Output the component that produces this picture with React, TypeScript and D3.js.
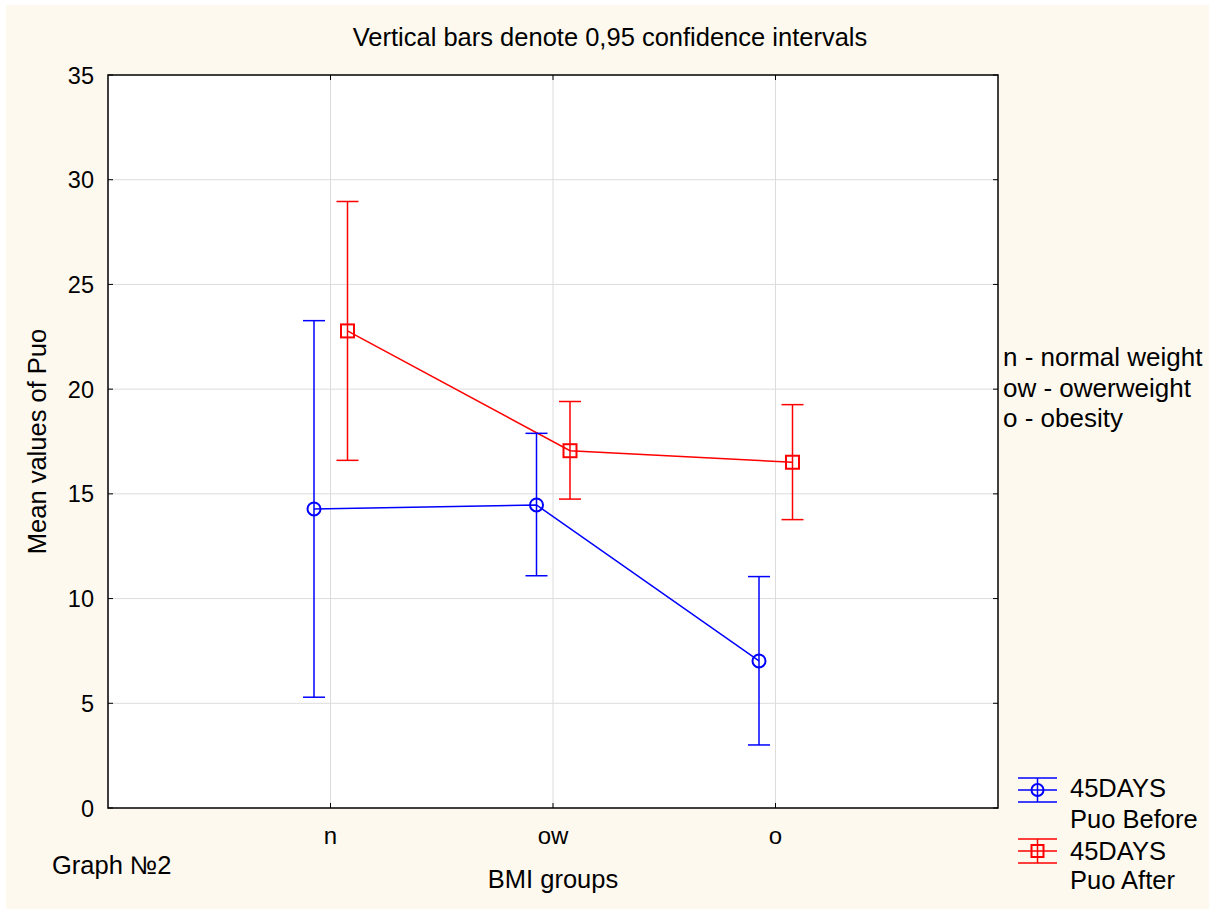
import React from "react";
import * as d3 from "d3";

const categories = ["n", "ow", "o"];
const beforeMean = [14.28, 14.47, 7.02];
const beforeLow = [5.29, 11.09, 3.01];
const beforeHigh = [23.27, 17.89, 11.05];
const afterMean = [22.78, 17.06, 16.51];
const afterLow = [16.6, 14.75, 13.77];
const afterHigh = [28.96, 19.41, 19.26];
const yTicks = [0, 5, 10, 15, 20, 25, 30, 35];
const groupNotes = ["n - normal weight", "ow - owerweight", "o - obesity"];

const W = 1209;
const H = 909;
const L = 108, R = 998, T = 75, B = 808;
const FONT = "'Liberation Sans', Arial, sans-serif";
const BLUE = "#0000ff";
const RED = "#ff0000";
const FS = 25.5;
const TFS = 23.5;

export default function App() {
  const y = d3.scaleLinear().domain([0, 35]).range([B, T]);
  const x = d3.scalePoint<string>().domain(categories).range([L, R]).padding(1);
  const offB = -16.5, offA = 17;
  const cap = 11;

  const lineGen = d3
    .line<[number, number]>()
    .x((d) => d[0])
    .y((d) => d[1]);

  const bPts: [number, number][] = categories.map((c, i) => [x(c)! + offB, y(beforeMean[i])]);
  const aPts: [number, number][] = categories.map((c, i) => [x(c)! + offA, y(afterMean[i])]);

  const errBar = (cx: number, lo: number, hi: number, color: string, key: string) => (
    <g key={key} stroke={color} strokeWidth={1.5}>
      <line x1={cx} x2={cx} y1={y(lo)} y2={y(hi)} />
      <line x1={cx - cap} x2={cx + cap} y1={y(lo)} y2={y(lo)} />
      <line x1={cx - cap} x2={cx + cap} y1={y(hi)} y2={y(hi)} />
    </g>
  );

  const legendSym = (cy: number, color: string, kind: "c" | "s") => {
    const x0 = 1018, x1 = 1057, cx = (x0 + x1) / 2;
    return (
      <g stroke={color} strokeWidth={1.5} fill="none">
        <line x1={x0} x2={x1} y1={cy - 12} y2={cy - 12} />
        <line x1={x0} x2={x1} y1={cy} y2={cy} />
        <line x1={x0} x2={x1} y1={cy + 12} y2={cy + 12} />
        <line x1={cx} x2={cx} y1={cy - 12} y2={cy + 12} />
        {kind === "c" ? (
          <circle cx={cx} cy={cy} r={6} strokeWidth={2} />
        ) : (
          <rect x={cx - 6} y={cy - 6} width={12} height={12} strokeWidth={2} />
        )}
      </g>
    );
  };

  return (
    <svg
      width={W}
      height={H}
      style={{ position: "absolute", left: 0, top: 0 }}
      fontFamily={FONT}
    >
      <rect x={0} y={0} width={W} height={H} fill="#ffffff" />
      <rect x={6} y={5} width={W - 6} height={H - 5} fill="#fef9ee" />
      <text x={610} y={46} fontSize={FS} textAnchor="middle" fill="#000">
        Vertical bars denote 0,95 confidence intervals
      </text>

      <rect x={L} y={T} width={R - L} height={B - T} fill="#ffffff" />
      {/* grid */}
      <g stroke="#dcdcdc" strokeWidth={1}>
        {yTicks.slice(1, -1).map((t) => (
          <line key={"gy" + t} x1={L} x2={R} y1={y(t)} y2={y(t)} />
        ))}
        {categories.map((c) => (
          <line key={"gx" + c} x1={x(c)} x2={x(c)} y1={T} y2={B} />
        ))}
      </g>
      {/* ticks */}
      <g stroke="#000" strokeWidth={1}>
        {yTicks.map((t) => (
          <g key={"t" + t}>
            <line x1={L} x2={L + 5} y1={y(t)} y2={y(t)} />
            <line x1={R - 5} x2={R} y1={y(t)} y2={y(t)} />
          </g>
        ))}
        {categories.map((c) => (
          <g key={"tc" + c}>
            <line x1={x(c)} x2={x(c)} y1={B} y2={B - 5} />
            <line x1={x(c)} x2={x(c)} y1={T} y2={T + 5} />
          </g>
        ))}
      </g>
      <rect x={L} y={T} width={R - L} height={B - T} fill="none" stroke="#000" strokeWidth={1.5} />

      {/* y tick labels */}
      {yTicks.map((t) => (
        <text key={"yl" + t} x={94} y={y(t) + 8.5} fontSize={TFS} textAnchor="end" fill="#000">
          {t}
        </text>
      ))}
      {categories.map((c) => (
        <text key={"xl" + c} x={x(c)} y={844} fontSize={24} textAnchor="middle" fill="#000">
          {c}
        </text>
      ))}
      <text
        transform={`translate(46,${(T + B) / 2}) rotate(-90)`}
        fontSize={FS}
        textAnchor="middle"
        fill="#000"
      >
        Mean values of Puo
      </text>
      <text x={553} y={888} fontSize={FS} textAnchor="middle" fill="#000">
        BMI groups
      </text>
      <text x={52} y={874} fontSize={FS} fill="#000">
        Graph №2
      </text>

      {/* series */}
      <path d={lineGen(bPts) || ""} fill="none" stroke={BLUE} strokeWidth={1.5} />
      <path d={lineGen(aPts) || ""} fill="none" stroke={RED} strokeWidth={1.5} />
      {categories.map((c, i) => errBar(x(c)! + offB, beforeLow[i], beforeHigh[i], BLUE, "eb" + i))}
      {categories.map((c, i) => errBar(x(c)! + offA, afterLow[i], afterHigh[i], RED, "ea" + i))}
      {bPts.map((p, i) => (
        <circle key={"mb" + i} cx={p[0]} cy={p[1]} r={6.5} fill="none" stroke={BLUE} strokeWidth={2} />
      ))}
      {aPts.map((p, i) => (
        <rect key={"ma" + i} x={p[0] - 6.5} y={p[1] - 6.5} width={13} height={13} fill="none" stroke={RED} strokeWidth={2} />
      ))}

      {/* group notes */}
      {groupNotes.map((s, i) => (
        <text key={"gn" + i} x={1003} y={366 + i * 30.5} fontSize={26} fill="#000">
          {s}
        </text>
      ))}

      {/* legend */}
      {legendSym(790, BLUE, "c")}
      <text x={1070} y={797} fontSize={FS} fill="#000">45DAYS</text>
      <text x={1070} y={828} fontSize={FS} fill="#000">Puo Before</text>
      {legendSym(851, RED, "s")}
      <text x={1070} y={860} fontSize={FS} fill="#000">45DAYS</text>
      <text x={1070} y={889} fontSize={FS} fill="#000">Puo After</text>
    </svg>
  );
}
